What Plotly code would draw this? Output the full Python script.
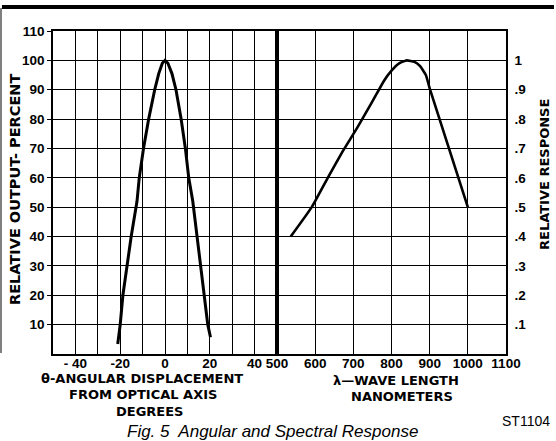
import plotly.graph_objects as go

# ---- data ----
ang_deg = [-21.1, -20, -18.8, -15.1, -12.5, -11.5, -9.6, -7.3, -4.6, -2.8, -1.2, 0, 1.3, 3.1, 4.9, 7.2, 9.1, 10.6, 12.4, 14.3, 17.6, 19.1, 20.3]
ang_out = [3.4, 10, 20, 40, 52, 60, 70, 80, 90, 95.5, 99, 100, 99, 95.5, 90, 80, 70, 60, 52, 40, 20, 10, 5.7]

wl_nm = [536, 591, 633, 672, 710, 750, 780, 800, 820, 840, 860, 875, 890, 900, 1000]
resp = [0.40, 0.50, 0.60, 0.69, 0.77, 0.86, 0.93, 0.965, 0.99, 1.0, 0.995, 0.98, 0.95, 0.905, 0.50]

left_yticks = [10, 20, 30, 40, 50, 60, 70, 80, 90, 100, 110]
left_ytext = ["10", "20", "30", "40", "50", "60", "70", "80", "90", "100", "110"]
left_xgrid = [-50, -40, -30, -20, -10, 0, 10, 20, 30, 40, 50]
left_xtext = ["", "- 40", "", "-20", "", "0", "", "20", "", "40", ""]
right_xticks = [500, 600, 700, 800, 900, 1000, 1100]
right_xtext = ["500", "600", "700", "800", "900", "1000", "1100"]
right_yticks = [0.1, 0.2, 0.3, 0.4, 0.5, 0.6, 0.7, 0.8, 0.9, 1.0]
right_ytext = [".1", ".2", ".3", ".4", ".5", ".6", ".7", ".8", ".9", "1"]

W, H = 556, 441
L, R, T, B = 53, 506, 31, 354
PW, PH = R - L, B - T
DIV = 277
d = (DIV - L) / PW


def px(x):
    return (x - L) / PW


def py(y):
    return (B - y) / PH


fig = go.Figure()
fig.add_trace(go.Scatter(x=ang_deg, y=ang_out, mode="lines",
                         line=dict(color="black", width=3), xaxis="x", yaxis="y",
                         showlegend=False, hoverinfo="skip"))
fig.add_trace(go.Scatter(x=wl_nm, y=resp, mode="lines",
                         line=dict(color="black", width=2.6, shape="spline", smoothing=0.4),
                         xaxis="x2", yaxis="y2", showlegend=False, hoverinfo="skip"))

tickfont = dict(family="Liberation Sans", size=13.5, color="black", weight="bold")

fig.update_layout(
    template="none",
    width=W, height=H,
    margin=dict(l=L, r=W - R, t=T, b=H - B, pad=0),
    paper_bgcolor="white", plot_bgcolor="white",
    xaxis=dict(domain=[0, d], range=[-50, 50], tickmode="array",
               tickvals=left_xgrid, ticktext=left_xtext,
               tickfont=tickfont, ticks="", anchor="y", ticklabelstandoff=-4),
    yaxis=dict(domain=[0, 1], range=[0, 110], tickmode="array",
               tickvals=left_yticks, ticktext=left_ytext, tickfont=tickfont,
               ticks="outside", ticklen=4, tickcolor="black", tickwidth=1.3,
               anchor="x"),
    xaxis2=dict(domain=[d, 1], range=[500, 1100], tickmode="array",
                tickvals=right_xticks, ticktext=right_xtext, tickfont=tickfont,
                ticks="", anchor="y2", ticklabelstandoff=-4),
    yaxis2=dict(domain=[0, 1], range=[0, 1.1], tickmode="array",
                tickvals=right_yticks, ticktext=right_ytext, tickfont=tickfont,
                ticks="", side="right", anchor="x2", ticklabelstandoff=4),
)
fig.update_xaxes(showgrid=True, gridcolor="black", gridwidth=1.3, zeroline=False,
                 showline=True, linecolor="black", linewidth=1.6, mirror=True)
fig.update_yaxes(showgrid=True, gridcolor="black", gridwidth=1.3, zeroline=False,
                 showline=True, linecolor="black", linewidth=1.6, mirror=True)

# thick divider and border decorations
fig.add_shape(type="line", xref="paper", yref="paper", x0=d, x1=d, y0=0, y1=1,
              line=dict(color="black", width=3.5))
fig.add_shape(type="line", xref="paper", yref="paper", x0=px(2), x1=px(554), y0=py(7), y1=py(7),
              line=dict(color="black", width=4), layer="above")
fig.add_shape(type="line", xref="paper", yref="paper", x0=px(1), x1=px(1), y0=py(8), y1=py(353),
              line=dict(color="#555555", width=1.5))

title_font = dict(family="DejaVu Sans", size=13, color="black", weight="bold")


def ann(text, x, y, font, angle=0):
    fig.add_annotation(text=text, xref="paper", yref="paper", x=px(x), y=py(y),
                       showarrow=False, font=font, textangle=angle,
                       xanchor="center", yanchor="middle")


ann("θ-ANGULAR DISPLACEMENT", 142, 378, title_font)
ann("FROM OPTICAL AXIS", 143, 395, title_font)
ann("DEGREES", 149, 411, title_font)
ann("λ—WAVE LENGTH", 396, 380, title_font)
ann("NANOMETERS", 402, 396, title_font)
ann("RELATIVE OUTPUT- PERCENT", 15, 190, dict(family="DejaVu Sans", size=14.5, color="black", weight="bold"), -90)
ann("RELATIVE RESPONSE", 544, 175, dict(family="DejaVu Sans", size=13, color="black", weight="bold"), -90)
ann("ST1104", 526, 421, dict(family="Liberation Sans", size=14, color="black"))
ann("Fig. 5  Angular and Spectral Response", 272, 431,
    dict(family="Liberation Sans", size=17, color="black", style="italic"))

fig.write_html("out.html", config={"displayModeBar": False},
               post_script="document.body.style.margin='0';document.body.style.overflow='hidden';"
                           "document.documentElement.style.overflow='hidden';window.scrollTo(0,0);")
